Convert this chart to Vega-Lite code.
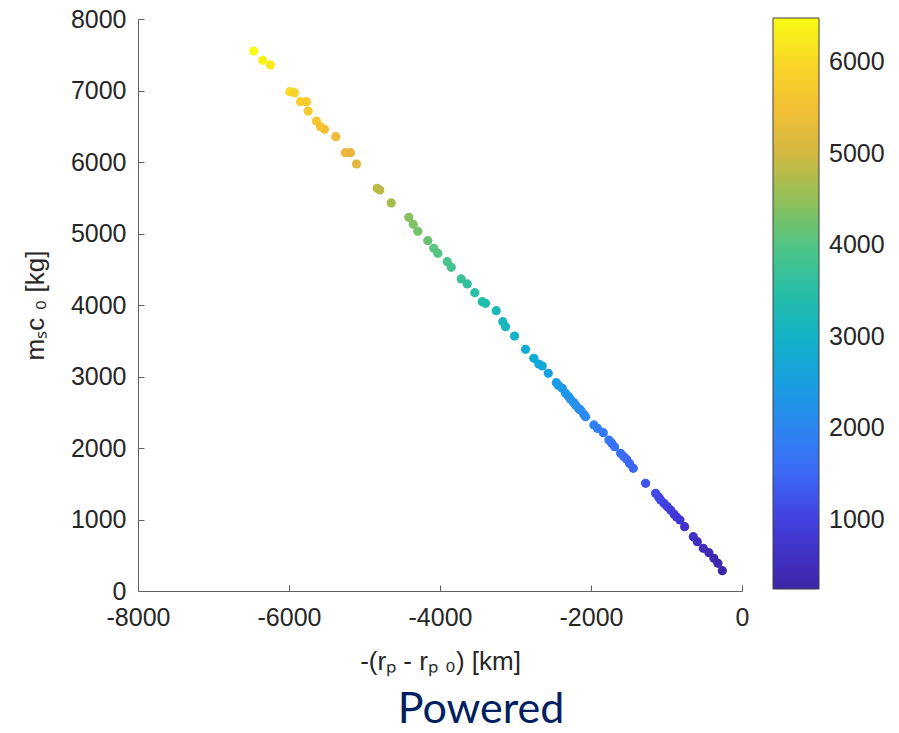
{
  "$schema": "https://vega.github.io/schema/vega-lite/v6.json",
  "width": 604,
  "height": 572,
  "autosize": "none",
  "padding": {"left": 138, "top": 19, "right": 157, "bottom": 142},
  "background": "white",
  "title": {
    "text": "Powered",
    "orient": "bottom",
    "anchor": "middle",
    "dx": 41,
    "offset": 15,
    "font": "Lato",
    "fontSize": 43,
    "fontWeight": "normal",
    "color": "#002060"
  },
  "data": {
    "values": [
      {"x": -6467, "y": 7552, "c": 6467},
      {"x": -6348, "y": 7422, "c": 6348},
      {"x": -6246, "y": 7357, "c": 6246},
      {"x": -5990, "y": 6983, "c": 5990},
      {"x": -5928, "y": 6969, "c": 5928},
      {"x": -5848, "y": 6843, "c": 5848},
      {"x": -5769, "y": 6843, "c": 5769},
      {"x": -5746, "y": 6713, "c": 5746},
      {"x": -5636, "y": 6573, "c": 5636},
      {"x": -5583, "y": 6494, "c": 5583},
      {"x": -5530, "y": 6457, "c": 5530},
      {"x": -5380, "y": 6354, "c": 5380},
      {"x": -5252, "y": 6130, "c": 5252},
      {"x": -5186, "y": 6130, "c": 5186},
      {"x": -5106, "y": 5972, "c": 5106},
      {"x": -4832, "y": 5632, "c": 4832},
      {"x": -4797, "y": 5608, "c": 4797},
      {"x": -4646, "y": 5427, "c": 4646},
      {"x": -4413, "y": 5227, "c": 4413},
      {"x": -4355, "y": 5129, "c": 4355},
      {"x": -4294, "y": 5031, "c": 4294},
      {"x": -4161, "y": 4899, "c": 4161},
      {"x": -4082, "y": 4793, "c": 4082},
      {"x": -4029, "y": 4723, "c": 4029},
      {"x": -3904, "y": 4606, "c": 3904},
      {"x": -3851, "y": 4527, "c": 3851},
      {"x": -3719, "y": 4364, "c": 3719},
      {"x": -3639, "y": 4294, "c": 3639},
      {"x": -3539, "y": 4172, "c": 3539},
      {"x": -3441, "y": 4046, "c": 3441},
      {"x": -3397, "y": 4024, "c": 3397},
      {"x": -3255, "y": 3920, "c": 3255},
      {"x": -3168, "y": 3766, "c": 3168},
      {"x": -3132, "y": 3696, "c": 3132},
      {"x": -3013, "y": 3566, "c": 3013},
      {"x": -2867, "y": 3380, "c": 2867},
      {"x": -2757, "y": 3255, "c": 2757},
      {"x": -2691, "y": 3175, "c": 2691},
      {"x": -2646, "y": 3147, "c": 2646},
      {"x": -2566, "y": 3045, "c": 2566},
      {"x": -2460, "y": 2913, "c": 2460},
      {"x": -2430, "y": 2874, "c": 2430},
      {"x": -2381, "y": 2835, "c": 2381},
      {"x": -2337, "y": 2765, "c": 2337},
      {"x": -2297, "y": 2720, "c": 2297},
      {"x": -2271, "y": 2681, "c": 2271},
      {"x": -2231, "y": 2636, "c": 2231},
      {"x": -2204, "y": 2601, "c": 2204},
      {"x": -2165, "y": 2552, "c": 2165},
      {"x": -2138, "y": 2531, "c": 2138},
      {"x": -2098, "y": 2475, "c": 2098},
      {"x": -2072, "y": 2438, "c": 2072},
      {"x": -1962, "y": 2322, "c": 1962},
      {"x": -1913, "y": 2273, "c": 1913},
      {"x": -1837, "y": 2214, "c": 1837},
      {"x": -1763, "y": 2112, "c": 1763},
      {"x": -1727, "y": 2070, "c": 1727},
      {"x": -1688, "y": 2018, "c": 1688},
      {"x": -1608, "y": 1926, "c": 1608},
      {"x": -1568, "y": 1881, "c": 1568},
      {"x": -1529, "y": 1842, "c": 1529},
      {"x": -1489, "y": 1783, "c": 1489},
      {"x": -1440, "y": 1716, "c": 1440},
      {"x": -1277, "y": 1506, "c": 1277},
      {"x": -1144, "y": 1366, "c": 1144},
      {"x": -1105, "y": 1315, "c": 1105},
      {"x": -1078, "y": 1273, "c": 1078},
      {"x": -1032, "y": 1224, "c": 1032},
      {"x": -989, "y": 1179, "c": 989},
      {"x": -946, "y": 1133, "c": 946},
      {"x": -902, "y": 1077, "c": 902},
      {"x": -866, "y": 1035, "c": 866},
      {"x": -822, "y": 993, "c": 822},
      {"x": -760, "y": 899, "c": 760},
      {"x": -645, "y": 759, "c": 645},
      {"x": -592, "y": 690, "c": 592},
      {"x": -512, "y": 597, "c": 512},
      {"x": -438, "y": 536, "c": 438},
      {"x": -372, "y": 457, "c": 372},
      {"x": -319, "y": 387, "c": 319},
      {"x": -261, "y": 284, "c": 261}
    ]
  },
  "mark": {"type": "circle", "size": 85, "opacity": 1},
  "encoding": {
    "x": {
      "field": "x",
      "type": "quantitative",
      "scale": {"domain": [-8000, 0], "nice": false, "zero": false},
      "axis": {
        "title": "-(rₚ - rₚ ₀) [km]",
        "values": [-8000, -6000, -4000, -2000, 0],
        "labelExpr": "datum.value + ''",
        "labelFlush": false,
        "tickSize": -6,
        "labelPadding": 20,
        "titlePadding": 18
      }
    },
    "y": {
      "field": "y",
      "type": "quantitative",
      "scale": {"domain": [0, 8000], "nice": false, "zero": false},
      "axis": {
        "title": "mₛc ₀ [kg]",
        "values": [0, 1000, 2000, 3000, 4000, 5000, 6000, 7000, 8000],
        "labelExpr": "datum.value + ''",
        "labelFlush": false,
        "tickSize": -6,
        "labelPadding": 18,
        "titlePadding": 22
      }
    },
    "color": {
      "field": "c",
      "type": "quantitative",
      "scale": {
        "domain": [247, 6480],
        "range": ["#3e26a8", "#4435d8", "#3c68f6", "#2a8cee", "#0cabd8", "#1dbcb0", "#4fc585", "#a0be4e", "#f0b43a", "#f9cf2c", "#f9fb15"],
        "interpolate": "rgb"
      },
      "legend": {
        "orient": "none",
        "legendX": 635,
        "legendY": -1,
        "direction": "vertical",
        "title": null,
        "gradientLength": 571,
        "gradientThickness": 46,
        "gradientStrokeColor": "#404040",
        "gradientStrokeWidth": 1,
        "values": [1000, 2000, 3000, 4000, 5000, 6000],
        "labelExpr": "datum.value + ''",
        "labelOverlap": false,
        "labelFont": "Liberation Sans",
        "labelFontSize": 25,
        "labelColor": "#262626",
        "labelOffset": 10
      }
    }
  },
  "config": {
    "view": {"stroke": null},
    "axis": {
      "grid": false,
      "domainColor": "#606060",
      "domainWidth": 1,
      "tickColor": "#606060",
      "tickWidth": 1,
      "labelFont": "Liberation Sans",
      "labelFontSize": 25,
      "labelColor": "#262626",
      "titleFont": "Liberation Sans",
      "titleFontSize": 26,
      "titleFontWeight": "normal",
      "titleColor": "#262626"
    }
  }
}
